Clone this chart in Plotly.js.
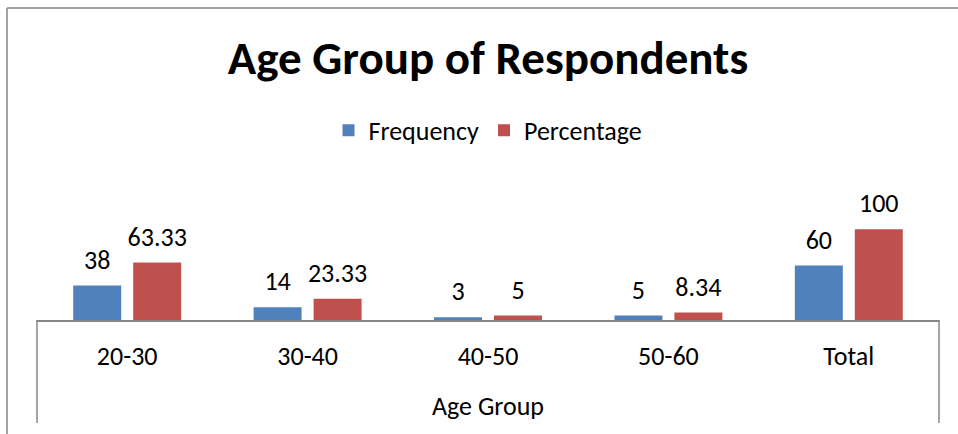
<!DOCTYPE html>
<html>
<head>
<meta charset="utf-8">
<script src="https://cdn.plot.ly/plotly-3.0.1.min.js"></script>
<style>
  html, body { margin: 0; padding: 0; background: #ffffff; }
  #chart { width: 958px; height: 434px; }
</style>
</head>
<body>
<div id="chart"></div>
<script>
// Age group categories and the two series
const AGE_GROUPS = ['20-30', '30-40', '40-50', '50-60', 'Total'];
const FREQUENCY = [38, 14, 3, 5, 60];
const PERCENTAGE = [63.33, 23.33, 5, 8.34, 100];

const FONT = 'Carlito, Lato, "Open Sans", sans-serif';
const GRAY = '#868686';
const TXT = 26;

function barTrace(name, values, color) {
  return {
    type: 'bar',
    name: name,
    x: AGE_GROUPS,
    y: values,
    marker: { color: color },
    hoverinfo: 'x+y'
  };
}

// value labels sit a little above each bar, so they go in grouped text traces
function labelTrace(name, values) {
  return {
    type: 'scatter',
    mode: 'markers+text',
    name: name,
    showlegend: false,
    x: AGE_GROUPS,
    y: values,
    text: values.map(String),
    textposition: 'top center',
    cliponaxis: false,
    textfont: { size: TXT, color: '#000000', family: FONT },
    marker: { size: 15, opacity: 0 },
    hoverinfo: 'skip'
  };
}

const traces = [
  barTrace('Frequency', FREQUENCY, '#4F81BD'),
  barTrace('Percentage', PERCENTAGE, '#C0504D'),
  labelTrace('Frequency', FREQUENCY),
  labelTrace('Percentage', PERCENTAGE)
];

// plot area: x 37..939, y 211..320.5
const plotH = 434 - 211 - 113.5;

const layout = {
  width: 958,
  height: 434,
  margin: { l: 37, r: 19, t: 211, b: 113.5 },
  paper_bgcolor: '#ffffff',
  plot_bgcolor: '#ffffff',
  font: { family: FONT, size: TXT, color: '#000000' },
  barmode: 'group',
  bargap: 0.335,
  bargroupgap: 0.2,
  scattermode: 'group',
  scattergap: 0.335,
  title: {
    text: '<b>Age Group of Respondents</b>',
    font: { family: FONT, size: 47, color: '#000000' },
    x: 0.5,
    xref: 'paper',
    xanchor: 'center',
    y: 1 - 58 / 434,
    yref: 'container',
    yanchor: 'middle'
  },
  showlegend: true,
  legend: {
    orientation: 'h',
    x: 0.5,
    xanchor: 'center',
    y: (320.5 - 130) / plotH,
    yanchor: 'middle',
    font: { family: FONT, size: TXT, color: '#000000' },
    itemwidth: 30,
    traceorder: 'normal'
  },
  xaxis: {
    type: 'category',
    showline: true,
    linecolor: GRAY,
    linewidth: 1.5,
    ticks: '',
    showgrid: false,
    zeroline: false,
    ticklabelstandoff: 12,
    tickfont: { family: FONT, size: TXT, color: '#000000' },
    title: {
      text: 'Age Group',
      font: { family: FONT, size: TXT, color: '#000000' },
      standoff: 26
    }
  },
  yaxis: {
    range: [0, 120],
    visible: false,
    showgrid: false,
    zeroline: false,
    fixedrange: true
  },
  shapes: [
    // side lines of the category axis area
    { type: 'line', xref: 'paper', yref: 'paper', x0: 0, x1: 0, y0: 0, y1: -(424 - 320.5) / plotH,
      line: { color: GRAY, width: 1.5 } },
    { type: 'line', xref: 'paper', yref: 'paper', x0: 1, x1: 1, y0: 0, y1: -(424 - 320.5) / plotH,
      line: { color: GRAY, width: 1.5 } },
    // chart frame (left and top edges)
    { type: 'line', xref: 'paper', yref: 'paper', x0: (7 - 37) / 902, x1: (7 - 37) / 902,
      y0: (320.5 - 7) / plotH, y1: (320.5 - 440) / plotH, line: { color: GRAY, width: 1.5 } },
    { type: 'line', xref: 'paper', yref: 'paper', x0: (7 - 37) / 902, x1: (965 - 37) / 902,
      y0: (320.5 - 7) / plotH, y1: (320.5 - 7) / plotH, line: { color: GRAY, width: 1.5 } }
  ]
};

Plotly.newPlot('chart', traces, layout, { displayModeBar: false, staticPlot: true });
</script>
</body>
</html>
